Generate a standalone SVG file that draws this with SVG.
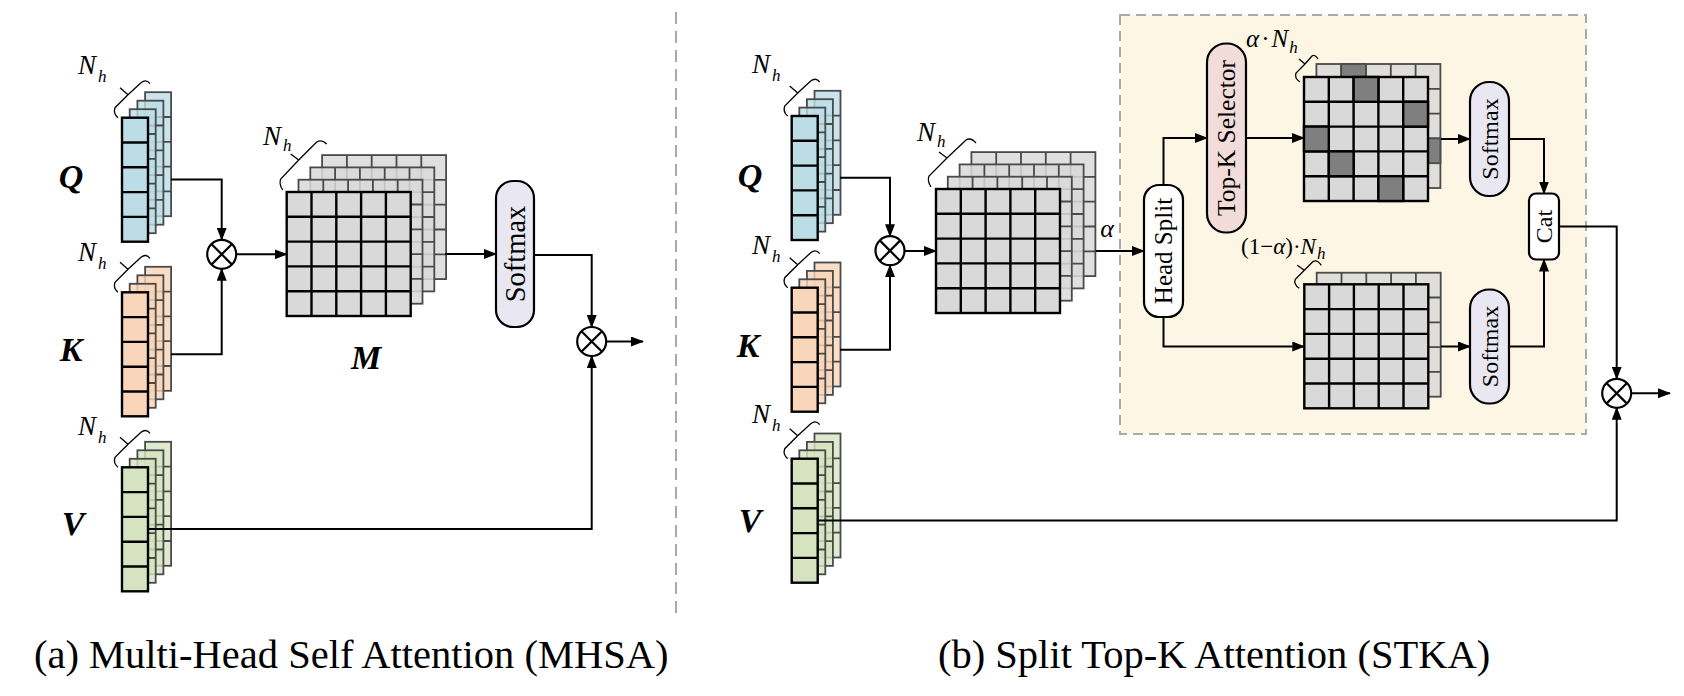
<svg xmlns="http://www.w3.org/2000/svg" xmlns:xlink="http://www.w3.org/1999/xlink" width="1684" height="696" viewBox="0 0 1684 696">
<style>
.vb{stroke:#4a4a4a;stroke-width:1.8;fill-opacity:0.8}
.vf{stroke:#000;stroke-width:2.4}
.mb{stroke:#4a4a4a;stroke-width:1.8;fill-opacity:0.85}
.mf{stroke:#000;stroke-width:2.4}
.dk{fill:#7f7f7f;stroke:#000;stroke-width:2.4}
.dkb{fill:#7f7f7f;stroke:#4a4a4a;stroke-width:1.8}
.brace{fill:none;stroke:#000;stroke-width:1.3}
.conn path{fill:none;stroke:#000;stroke-width:2;marker-end:url(#ah)}
.lbl{font-family:"Liberation Serif",serif;font-weight:bold;font-style:italic;font-size:34px}
.nh{font-family:"Liberation Serif",serif;font-style:italic;font-size:27px}
.sm{font-family:"Liberation Serif",serif;font-style:italic;font-size:23px}
.up{font-style:normal}
.sub{font-size:17px}
.bt{font-family:"Liberation Serif",serif;font-size:24px}
.op circle{fill:#fff;stroke:#000;stroke-width:2.2}
.op path{stroke:#000;stroke-width:2.2}
.cap{font-family:"Liberation Serif",serif;font-size:40.5px}
</style>
<defs>
<marker id="ah" markerUnits="userSpaceOnUse" markerWidth="13" markerHeight="10" refX="12" refY="5" orient="auto">
<path d="M0,0 L13,5 L0,10 z" fill="#000"/>
</marker>
<g id="vec"><rect width="26" height="124"/><path d="M0 24.8H26M0 49.6H26M0 74.4H26M0 99.2H26"/></g>
<g id="mat"><rect width="124" height="124"/><path d="M24.8 0V124M49.6 0V124M74.4 0V124M99.2 0V124M0 24.8H124M0 49.6H124M0 74.4H124M0 99.2H124"/></g>
</defs>
<rect width="1684" height="696" fill="#fff"/>

<!-- divider -->
<line x1="676" y1="12" x2="676" y2="620" stroke="#aaa" stroke-width="2" stroke-dasharray="12,7"/>

<!-- STKA dashed region -->
<rect id="stka-region" x="1120" y="15" width="466" height="419" fill="#fef6e4" stroke="#aaa" stroke-width="2" stroke-dasharray="10,6"/>

<!-- ===== (a) MHSA ===== -->
<g id="a-Q">
<g transform="translate(122,117.7)" fill="#bcdde6">
<use xlink:href="#vec" x="23.1" y="-25.5" class="vb"/>
<use xlink:href="#vec" x="15.4" y="-17" class="vb"/>
<use xlink:href="#vec" x="7.7" y="-8.5" class="vb"/>
<use xlink:href="#vec" class="vf"/>
<path class="brace" d="M-4,0 Q-9,-4 -7,-10 L6,-23 L19,-35 Q24,-39 28,-34 M6,-23 L-2,-30"/>
</g>
<text class="nh" x="78" y="74">N<tspan class="sub" dx="2" dy="8">h</tspan></text>
<text class="lbl" x="71" y="188" text-anchor="middle">Q</text>
</g>

<g id="a-K">
<g transform="translate(122,292.3)" fill="#f9d5b9">
<use xlink:href="#vec" x="23.1" y="-25.5" class="vb"/>
<use xlink:href="#vec" x="15.4" y="-17" class="vb"/>
<use xlink:href="#vec" x="7.7" y="-8.5" class="vb"/>
<use xlink:href="#vec" class="vf"/>
<path class="brace" d="M-4,0 Q-9,-4 -7,-10 L6,-23 L19,-35 Q24,-39 28,-34 M6,-23 L-2,-30"/>
</g>
<text class="nh" x="78" y="261">N<tspan class="sub" dx="2" dy="8">h</tspan></text>
<text class="lbl" x="71" y="361" text-anchor="middle">K</text>
</g>

<g id="a-V">
<g transform="translate(122,467.3)" fill="#d6e3c1">
<use xlink:href="#vec" x="23.1" y="-25.5" class="vb"/>
<use xlink:href="#vec" x="15.4" y="-17" class="vb"/>
<use xlink:href="#vec" x="7.7" y="-8.5" class="vb"/>
<use xlink:href="#vec" class="vf"/>
<path class="brace" d="M-4,0 Q-9,-4 -7,-10 L6,-23 L19,-35 Q24,-39 28,-34 M6,-23 L-2,-30"/>
</g>
<text class="nh" x="78" y="435">N<tspan class="sub" dx="2" dy="8">h</tspan></text>
<text class="lbl" x="73" y="535" text-anchor="middle">V</text>
</g>

<g id="a-mul1" class="op">
<circle cx="221.7" cy="254.3" r="14.5"/>
<path d="M211.4,244 L232,264.6 M232,244 L211.4,264.6"/>
</g>

<g id="a-M">
<g transform="translate(286.7,192)" fill="#d9d9d9">
<use xlink:href="#mat" x="35.4" y="-36.9" class="mb"/>
<use xlink:href="#mat" x="23.6" y="-24.6" class="mb"/>
<use xlink:href="#mat" x="11.8" y="-12.3" class="mb"/>
<use xlink:href="#mat" class="mf"/>
<path class="brace" d="M-4,-2 Q-8,-8 -6,-13 L12,-32 L30,-50 Q35,-53 40,-48 M12,-32 L4,-38"/>
</g>
<text class="nh" x="263" y="145">N<tspan class="sub" dx="2" dy="6">h</tspan></text>
<text class="lbl" x="366" y="369" text-anchor="middle">M</text>
</g>

<g id="a-softmax">
<rect x="496" y="181" width="38" height="146" rx="17" fill="#e9e7f1" stroke="#000" stroke-width="2.2"/>
<text class="bt" style="font-size:28.5px" transform="translate(515,254) rotate(-90)" text-anchor="middle" dy="0.35em">Softmax</text>
</g>

<g id="a-mul2" class="op">
<circle cx="591.7" cy="341.5" r="14.5"/>
<path d="M581.4,331.2 L602,351.8 M602,331.2 L581.4,351.8"/>
</g>

<!-- ===== (b) STKA ===== -->
<g id="b-Q">
<g transform="translate(791.7,116)" fill="#bcdde6">
<use xlink:href="#vec" x="22.8" y="-25.2" class="vb"/>
<use xlink:href="#vec" x="15.2" y="-16.8" class="vb"/>
<use xlink:href="#vec" x="7.6" y="-8.4" class="vb"/>
<use xlink:href="#vec" class="vf"/>
<path class="brace" d="M-4,0 Q-9,-4 -7,-10 L6,-23 L19,-35 Q24,-39 28,-34 M6,-23 L-2,-30"/>
</g>
<text class="nh" x="752" y="73">N<tspan class="sub" dx="2" dy="8">h</tspan></text>
<text class="lbl" x="750" y="187" text-anchor="middle">Q</text>
</g>

<g id="b-K">
<g transform="translate(791.7,287.7)" fill="#f9d5b9">
<use xlink:href="#vec" x="22.8" y="-25.2" class="vb"/>
<use xlink:href="#vec" x="15.2" y="-16.8" class="vb"/>
<use xlink:href="#vec" x="7.6" y="-8.4" class="vb"/>
<use xlink:href="#vec" class="vf"/>
<path class="brace" d="M-4,0 Q-9,-4 -7,-10 L6,-23 L19,-35 Q24,-39 28,-34 M6,-23 L-2,-30"/>
</g>
<text class="nh" x="752" y="254">N<tspan class="sub" dx="2" dy="8">h</tspan></text>
<text class="lbl" x="748" y="357" text-anchor="middle">K</text>
</g>

<g id="b-V">
<g transform="translate(791.7,458.7)" fill="#d6e3c1">
<use xlink:href="#vec" x="22.8" y="-25.2" class="vb"/>
<use xlink:href="#vec" x="15.2" y="-16.8" class="vb"/>
<use xlink:href="#vec" x="7.6" y="-8.4" class="vb"/>
<use xlink:href="#vec" class="vf"/>
<path class="brace" d="M-4,0 Q-9,-4 -7,-10 L6,-23 L19,-35 Q24,-39 28,-34 M6,-23 L-2,-30"/>
</g>
<text class="nh" x="752" y="423">N<tspan class="sub" dx="2" dy="8">h</tspan></text>
<text class="lbl" x="750" y="532" text-anchor="middle">V</text>
</g>

<g id="b-mul1" class="op">
<circle cx="890" cy="250.7" r="14.5"/>
<path d="M879.7,240.4 L900.3,261 M900.3,240.4 L879.7,261"/>
</g>

<g id="b-M">
<g transform="translate(936,189)" fill="#d9d9d9">
<use xlink:href="#mat" x="35.4" y="-36.9" class="mb"/>
<use xlink:href="#mat" x="23.6" y="-24.6" class="mb"/>
<use xlink:href="#mat" x="11.8" y="-12.3" class="mb"/>
<use xlink:href="#mat" class="mf"/>
<path class="brace" d="M-5,-2 Q-9,-8 -7,-13 L11,-31 L30,-49 Q35,-52 40,-46 M11,-31 L3,-37"/>
</g>
<text class="nh" x="917" y="141">N<tspan class="sub" dx="2" dy="6">h</tspan></text>
<text class="sm" x="1107" y="237" text-anchor="middle" style="font-size:26px">α</text>
</g>

<g id="b-headsplit">
<rect x="1144" y="185" width="39" height="132" rx="15" fill="#fff" stroke="#000" stroke-width="2.2"/>
<text class="bt" style="font-size:25px" transform="translate(1163.5,251) rotate(-90)" text-anchor="middle" dy="0.35em">Head Split</text>
</g>

<g id="b-topk">
<rect x="1207" y="43.5" width="39" height="189" rx="19" fill="#f1dcda" stroke="#000" stroke-width="2.2"/>
<text class="bt" style="font-size:25.5px" transform="translate(1226.5,138) rotate(-90)" text-anchor="middle" dy="0.35em">Top-K Selector</text>
</g>

<g id="b-topmat">
<g transform="translate(1304,77)" fill="#d9d9d9">
<use xlink:href="#mat" x="12.4" y="-13" class="mb"/>
<rect class="dkb" x="37.2" y="-13" width="24.8" height="24.8"/>
<rect class="dkb" x="111.6" y="61.4" width="24.8" height="24.8"/>
<use xlink:href="#mat" class="mf"/>
<rect class="dk" x="49.6" y="0" width="24.8" height="24.8"/>
<rect class="dk" x="99.2" y="24.8" width="24.8" height="24.8"/>
<rect class="dk" x="0" y="49.6" width="24.8" height="24.8"/>
<rect class="dk" x="24.8" y="74.4" width="24.8" height="24.8"/>
<rect class="dk" x="74.4" y="99.2" width="24.8" height="24.8"/>
<path class="brace" d="M-4,5 Q-10,1 -8,-4 L1,-13 L8,-21 Q11,-23 14,-18 M1,-13 L-5,-18"/>
</g>
<text class="sm" x="1246" y="47" style="font-size:25px">α<tspan class="up" dx="2">·</tspan><tspan dx="2">N</tspan><tspan class="sub" dx="1" dy="6">h</tspan></text>
</g>

<g id="b-lowmat">
<g transform="translate(1304.3,284.3)" fill="#d9d9d9">
<use xlink:href="#mat" x="12.4" y="-11.6" class="mb"/>
<use xlink:href="#mat" class="mf"/>
<path class="brace" d="M-5,4 Q-11,0 -9,-5 L0,-14 L9,-23 Q13,-25 17,-19 M0,-14 L-7,-19"/>
</g>
<text class="sm" x="1241" y="254"><tspan class="up">(1−</tspan>α<tspan class="up">)·</tspan>N<tspan class="sub" dx="1" dy="5">h</tspan></text>
</g>

<g id="b-softmax1">
<rect x="1470" y="82" width="39" height="114" rx="19" fill="#e9e7f1" stroke="#000" stroke-width="2.2"/>
<text class="bt" transform="translate(1489.5,139) rotate(-90)" text-anchor="middle" dy="0.35em">Softmax</text>
</g>

<g id="b-softmax2">
<rect x="1470" y="289.5" width="39" height="114" rx="19" fill="#e9e7f1" stroke="#000" stroke-width="2.2"/>
<text class="bt" transform="translate(1489.5,346.5) rotate(-90)" text-anchor="middle" dy="0.35em">Softmax</text>
</g>

<g id="b-cat">
<rect x="1529" y="193.5" width="30" height="66" rx="7" fill="#fff" stroke="#000" stroke-width="2.2"/>
<text class="bt" transform="translate(1544,226.5) rotate(-90)" text-anchor="middle" dy="0.35em">Cat</text>
</g>

<g id="b-mul2" class="op">
<circle cx="1616.7" cy="393.3" r="14.5"/>
<path d="M1606.4,383 L1627,403.6 M1627,383 L1606.4,403.6"/>
</g>

<!-- connectors -->
<g id="connectors" class="conn">
<path d="M171,179.5 H221.7 V239.8"/>
<path d="M171,354.3 H221.7 V268.8"/>
<path d="M236.2,254.3 H286.7"/>
<path d="M445,254 H496"/>
<path d="M534,255 H591.7 V327"/>
<path d="M147,529 H591.7 V356"/>
<path d="M606.2,341.5 H643"/>

<path d="M840,177.7 H890 V236.2"/>
<path d="M840,349.7 H890 V265.2"/>
<path d="M904.5,251 H936"/>
<path d="M1095.7,251 H1144"/>
<path d="M1163.5,185 V138 H1207"/>
<path d="M1163.5,317 V346.5 H1304.3"/>
<path d="M1246,138 H1304"/>
<path d="M1441,139 H1470"/>
<path d="M1441,346.5 H1470"/>
<path d="M1509,139 H1544 V193.5"/>
<path d="M1509,346.5 H1544 V259.5"/>
<path d="M1559,226.5 H1616.7 V378.8"/>
<path d="M817,520.5 H1616.7 V407.8"/>
<path d="M1631.2,393.3 H1670"/>
</g>

<!-- captions -->
<text class="cap" x="34" y="668">(a) Multi-Head Self Attention (MHSA)</text>
<text class="cap" x="938" y="668">(b) Split Top-K Attention (STKA)</text>
</svg>
